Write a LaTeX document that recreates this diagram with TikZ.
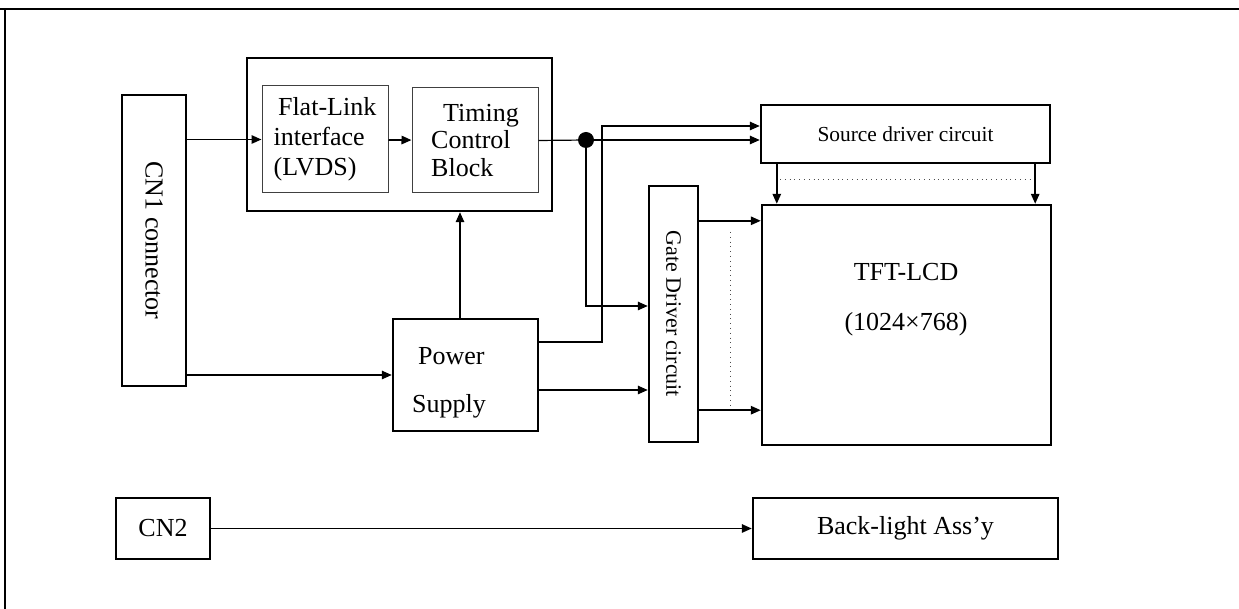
\documentclass[tikz,border=0pt]{standalone}
\usepackage{fontspec}
\setmainfont{Liberation Serif}
\usetikzlibrary{arrows.meta}

\begin{document}
\begin{tikzpicture}[x=0.5pt,y=-0.5pt,
    box/.style={draw,line width=1.2pt,inner sep=0pt},
    thinbox/.style={draw=black!75,line width=0.5pt,inner sep=0pt},
    sig/.style={-{Triangle[length=5pt,width=4.2pt]},line width=0.85pt},
    wire/.style={line width=0.6pt},
    dots/.style={dotted,line width=0.4pt,black!70},
    big/.style={font=\fontsize{13}{15}\selectfont},
    small/.style={font=\fontsize{10.7}{13}\selectfont}]
    \useasboundingbox (0,0) rectangle (1239,609);
    \draw[line width=1.4pt] (0,9) -- (1239,9);
    \draw[line width=1pt] (5,9) -- (5,609);

    \node[box,big,minimum width=32pt,minimum height=145.5pt] (cn1) at (154,240.5) {\rotatebox{-90}{CN1 connector}};
    \node[box,minimum width=152.5pt,minimum height=76.5pt] (lvdsblk) at (399.5,134.5) {};
    \node[thinbox,big,align=left,minimum width=63pt,minimum height=53.5pt] (flat) at (325,139.5) {\,Flat-Link\\interface\\(LVDS)};
    \node[thinbox,align=left,font=\fontsize{13}{13.75}\selectfont,minimum width=63pt,minimum height=52.5pt] (tcon) at (475,140.5) {\hspace{6pt}Timing\\Control\\Block};
    \node[box,minimum width=72.5pt,minimum height=56pt] (power) at (465.5,375) {};
    \node[big,align=left] (pwrtxt) at (449,383) {\hspace{3pt}Power\\[9pt]Supply};
    \node[box,font=\fontsize{11}{13}\selectfont,minimum width=24.5pt,minimum height=128pt] (gate) at (673.5,314) {\rotatebox{-90}{Gate Driver circuit}};
    \node[box,small,minimum width=144.5pt,minimum height=29pt] (source) at (905.5,134) {Source driver circuit};
    \node[box,minimum width=144.5pt,minimum height=120pt] (tft) at (906.5,325) {};
    \node[big,align=center] (tfttxt) at (906,300) {TFT-LCD\\[10pt](1024×768)};
    \node[box,big,minimum width=47pt,minimum height=30.5pt] (cn2) at (163,528.5) {CN2};
    \node[box,big,minimum width=152.5pt,minimum height=30.5pt] (bl) at (905.5,528.5) {Back-light Ass’y};

    \coordinate (dot) at (586,140);
    \coordinate (bus) at (602,126);
    \coordinate (ps) at ([xshift=-2.75pt]power.north);
    \coordinate (p1) at ([yshift=16.5pt]power.east);
    \coordinate (p2) at ([yshift=-7.5pt]power.east);
    \coordinate (g1) at ([yshift=4pt]gate.west);
    \coordinate (g2) at ([yshift=-18pt]gate.north east);
    \coordinate (g3) at ([yshift=16.5pt]gate.south east);
    \coordinate (s1) at ([xshift=8.5pt]source.south west);
    \coordinate (s2) at ([xshift=-8pt]source.south east);
    \coordinate (d1) at (730,232);
    \coordinate (d2) at (730,407);
    \coordinate (d3) at (780,179);
    \coordinate (d4) at (1032,179);

    \path[sig]
    (cn1.east |- flat.west) edge (flat.west)
    (flat) edge (tcon)
    (cn1.east |- power.west) edge (power.west)
    (ps) edge (ps |- lvdsblk.south)
    (p2) edge (p2 -| gate.west)
    (g2) edge (g2 -| tft.west)
    (g3) edge (g3 -| tft.west)
    (s1) edge (s1 |- tft.north)
    (s2) edge (s2 |- tft.north)
    (cn2) edge (bl);

    \draw[wire] (tcon.east) -- (dot);
    \fill (dot) circle[radius=4pt];
    \draw[sig] (dot) -- (dot -| source.west);
    \draw[sig] (dot) |- (g1);
    \draw[sig] (p1) -| (bus) -- (bus -| source.west);

    \draw[dots] (d1) -- (d2);
    \draw[dots] (d3) -- (d4);
\end{tikzpicture}
\end{document}
